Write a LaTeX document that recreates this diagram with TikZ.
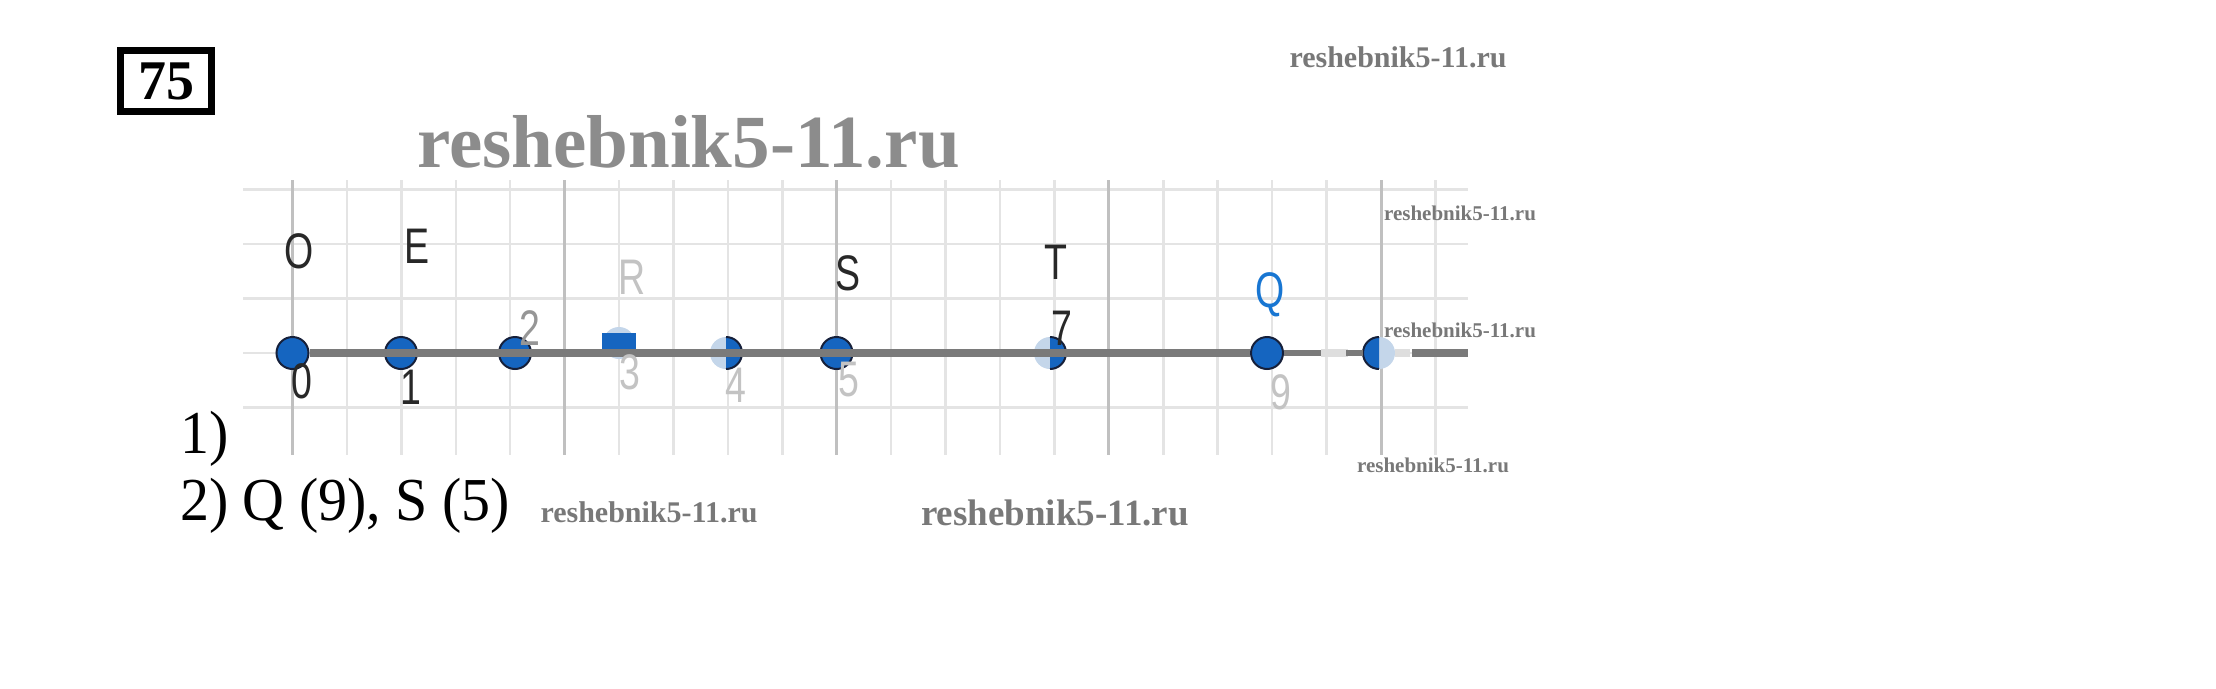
\documentclass[tikz,border=0pt]{standalone}
\usepackage{fontspec}
\setmainfont{Liberation Serif}
\newfontfamily\geofont{Liberation Sans}

\definecolor{ptblue}{RGB}{21,101,192}
\definecolor{ptlight}{RGB}{196,214,234}
\definecolor{ptedge}{RGB}{22,32,58}
\definecolor{axisgray}{RGB}{122,122,122}
\definecolor{axisfade}{RGB}{222,222,222}
\definecolor{gridlight}{RGB}{228,228,228}
\definecolor{gridheavy}{RGB}{192,192,192}
\definecolor{qblue}{RGB}{24,118,210}
\definecolor{wmgray}{RGB}{120,120,120}
\definecolor{lbldark}{RGB}{40,40,40}
\definecolor{lblmid}{RGB}{150,150,150}
\definecolor{lblfade}{RGB}{195,195,195}

\begin{document}
\begin{tikzpicture}[x=1pt,y=-1pt,
    dot/.style={circle,fill=ptblue,draw=ptedge,line width=2pt,minimum size=32pt,inner sep=0pt},
    lbl/.style={font=\geofont\fontsize{50}{50}\selectfont,xscale=0.75,inner sep=0pt,text=lbldark},
    wmark/.style={font=\bfseries\fontsize{#1}{#1}\selectfont,text=wmgray,inner sep=0pt,anchor=base},
    answer/.style={font=\fontsize{61}{61}\selectfont,xscale=0.95,inner sep=0pt,anchor=base west}]
  \pgfmathsetmacro{\cell}{54.425}
  \pgfmathsetmacro{\ptr}{16}
  \pgfmathsetmacro{\axisy}{353}
  \pgfmathsetmacro{\zerox}{292.5}

  \def\halfdot(#1,#2){
    % light disc
    \fill[ptlight] (#1) circle[radius=\ptr];
    % blue half of it
    \fill[ptblue] (#1) ++(#2:\ptr)
          arc[start angle=#2,end angle=#2+180,radius=\ptr] -- cycle;
    \draw[ptedge,line width=2pt] (#1) ++(#2:\ptr)
          arc[start angle=#2,end angle=#2+180,radius=\ptr];
  }

  \useasboundingbox (0,0) rectangle (2216,688);

  % Draw grid
  \foreach \k in {0,...,21}{
    \pgfmathsetmacro{\gx}{\zerox+\k*\cell}
    \draw[gridlight,line width=2.5pt] (\gx,180) -- (\gx,455);
  }
  \foreach \j in {-3,...,1}{
    \pgfmathsetmacro{\gy}{\axisy+\j*\cell}
    \draw[gridlight,line width=2.5pt] (243,\gy) -- (1468,\gy);
  }
  \foreach \k in {0,5,...,20}{
    \pgfmathsetmacro{\gx}{\zerox+\k*\cell}
    \draw[gridheavy,line width=3pt] (\gx,180) -- (\gx,455);
  }

  % Points of the line
  \foreach \n/\px in {0/292.5,1/401,2/515,3/619,4/726,5/836.5,7/1050,9/1267,10/1379}
    \coordinate (p\n) at (\px,\axisy);
  \coordinate (axisend) at (1468,\axisy);

  % Draw full points
  \foreach \n in {0,1,2,5,9}
    \node[dot] (dot\n) at (p\n) {};

  % Draw faded points
  \halfdot(p4,-90)
  \halfdot(p7,-90)
  \halfdot(p10,90)

  % Draw square point
  \fill[ptlight] (p3) ++(0,-10) circle[radius=\ptr];
  \node[fill=ptblue,minimum width=34pt,minimum height=22pt,inner sep=0pt]
        (sq3) at ([yshift=9pt]p3) {};

  % Draw axis
  \draw[axisgray,line width=8pt] (dot0.east) -- (dot9.west);
  \draw[axisgray,line width=6pt] (dot9.east) -- ++(37,0);
  \draw[axisfade,line width=8pt] (dot9.east) ++(37,0) -- ++(27,0);
  \draw[axisgray,line width=6pt] (p10) ++(-33,0) -- ++(17,0);
  \draw[axisfade,line width=8pt] (p10) ++(\ptr,0) -- ++(15,0);
  \draw[axisgray,line width=8pt] (p10) ++(33,0) -- (axisend);

  % Draw point names
  \path (p0) ++(6.5,-102) node[lbl] (lblO) {O};
  \path (p1) ++(16,-107) node[lbl] (lblE) {E};
  \path (p3) ++(13,-76) node[lbl,text=lblfade] (lblR) {R};
  \path (p5) ++(11.5,-80) node[lbl] (lblS) {S};
  \path (p7) ++(6,-91) node[lbl] (lblT) {T};
  \path (p9) ++(3,-58) node[lbl,text=qblue] (lblQ) {Q};

  % Draw coordinates
  \path (p0) ++(9.5,28) node[lbl] (num0) {0};
  \path (p1) ++(10,34) node[lbl] (num1) {1};
  \path (p2) ++(15,-25) node[lbl,text=lblmid] (num2) {2};
  \path (p3) ++(11,19) node[lbl,text=lblfade] (num3) {3};
  \path (p4) ++(10,32) node[lbl,text=lblfade] (num4) {4};
  \path (p5) ++(12.5,27) node[lbl,text=lblfade] (num5) {5};
  \path (p7) ++(12,-25) node[lbl] (num7) {7};
  \path (p9) ++(14,39) node[lbl,text=lblfade] (num9) {9};

  % Draw task number and answers
  \node[draw,line width=7pt,minimum width=91pt,minimum height=61pt,inner sep=0pt,
        font=\bfseries\fontsize{56}{56}\selectfont] (num75) at (166,81) {75};
  \node[answer] (ans1) at (180,453) {1)};
  \node[answer] (ans2) at (180,520) {2) Q (9), S (5)};

  % Draw watermarks
  \node[wmark=75,text=wmgray!85] (wmBig) at (688.5,167) {reshebnik5-11.ru};
  \node[wmark=30] (wmTop) at (1398,67) {reshebnik5-11.ru};
  \node[wmark=21] (wmGridA) at (1460,220) {reshebnik5-11.ru};
  \node[wmark=21] (wmGridB) at (1460,337) {reshebnik5-11.ru};
  \node[wmark=21] (wmGridC) at (1433,472) {reshebnik5-11.ru};
  \node[wmark=30] (wmLow) at (649,522) {reshebnik5-11.ru};
  \node[wmark=37] (wmLowB) at (1055,525) {reshebnik5-11.ru};
\end{tikzpicture}
\end{document}
